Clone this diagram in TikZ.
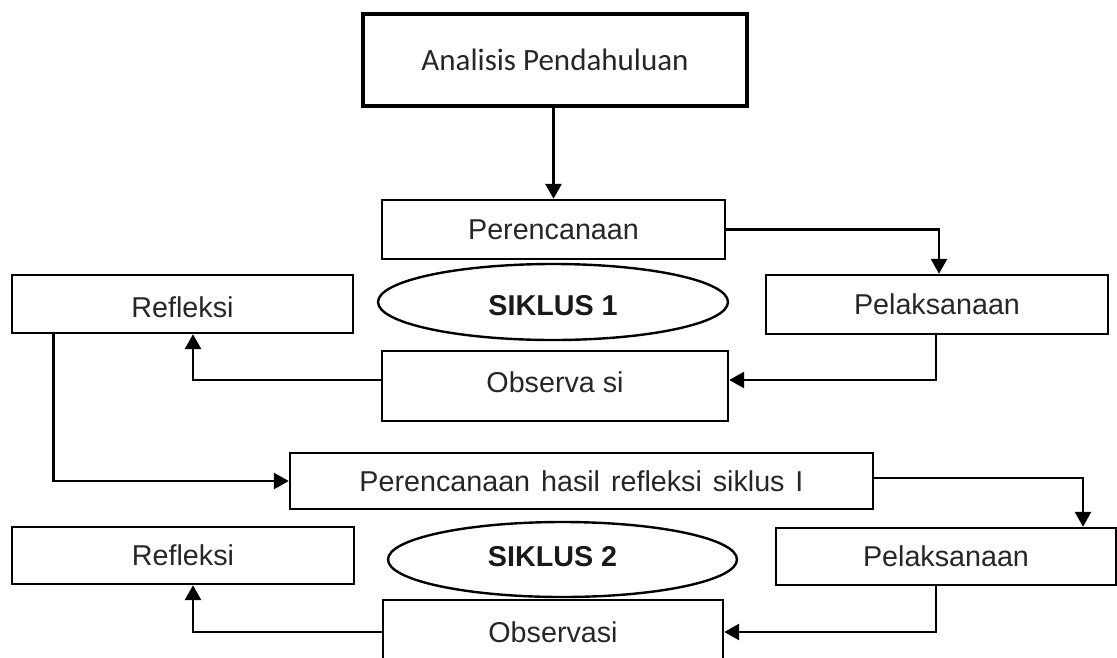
\documentclass[tikz,border=0pt]{standalone}
\usepackage{fontspec}
\setmainfont{Liberation Sans}
\newfontfamily\calibrifont{Carlito}
\usetikzlibrary{shapes.geometric,arrows.meta}
\begin{document}
\begin{tikzpicture}[x=1pt,y=-1pt,
  box/.style={draw=black, line width=2.4pt, rectangle, inner sep=0pt,
    font=\fontsize{28.7}{34}\selectfont, text=black!85},
  oval/.style={draw=black, line width=2.4pt, ellipse, inner sep=0pt,
    font=\bfseries\fontsize{28.7}{34}\selectfont, text=black!90},
  conn/.style={line width=2.8pt, -{Triangle[length=15pt,width=16pt]}},
  ]
\clip (0,0) rectangle (1117,657);
% nodes
\node[box, line width=3.5pt, minimum width=384pt, minimum height=92pt,
  font=\calibrifont\fontsize{31}{37}\selectfont] (ana) at (555,60) {Analisis Pendahuluan};
\node[box, minimum width=343pt, minimum height=59pt] (per1) at (553.5,229.5) {Perencanaan};
\node[oval, minimum width=350pt, minimum height=76pt, text height=26.5pt] (ell1) at (553,302) {SIKLUS 1};
\node[box, minimum width=341pt, minimum height=58pt, text height=27pt] (ref1) at (182.5,304) {Refleksi};
\node[box, minimum width=342pt, minimum height=59pt] (pel1) at (937,304.5) {Pelaksanaan};
\node[box, minimum width=346pt, minimum height=70pt, text depth=8pt] (obs1) at (555,386) {Observa si};
\node[box, minimum width=583pt, minimum height=56pt] (per2) at (581.5,481)
  {{\spaceskip=0.38em\relax Perencanaan hasil refleksi siklus I}};
\node[box, minimum width=342pt, minimum height=57pt] (ref2) at (183,555.5) {Refleksi};
\node[oval, minimum width=349pt, minimum height=75pt, text depth=7pt] (ell2) at (562.5,559.5) {\hspace*{-20pt}SIKLUS 2};
\node[box, minimum width=340pt, minimum height=57pt] (pel2) at (946,556.5) {Pelaksanaan};
\node[box, minimum width=340pt, minimum height=70pt, text depth=6pt] (obs2) at (553,635) {Observasi};
% connectors
\draw[conn] (ana.south -| per1.north) -- (per1.north);
\draw[conn] (per1.east) -| ([xshift=2pt]pel1.north);
\draw[conn] ([xshift=-1pt]pel1.south) |- ([yshift=6pt]obs1.east);
\draw[conn] ([yshift=6pt]obs1.west) -| ([xshift=10.5pt]ref1.south);
\draw[conn] ([xshift=43pt]ref1.south west) |- (per2.west);
\draw[conn] ([yshift=3pt]per2.east) -| ([xshift=137pt]pel2.north);
\draw[conn] ([xshift=-10pt]pel2.south) |- ([yshift=3pt]obs2.east);
\draw[conn] ([yshift=3pt]obs2.west) -| ([xshift=10pt]ref2.south);
\end{tikzpicture}
\end{document}
